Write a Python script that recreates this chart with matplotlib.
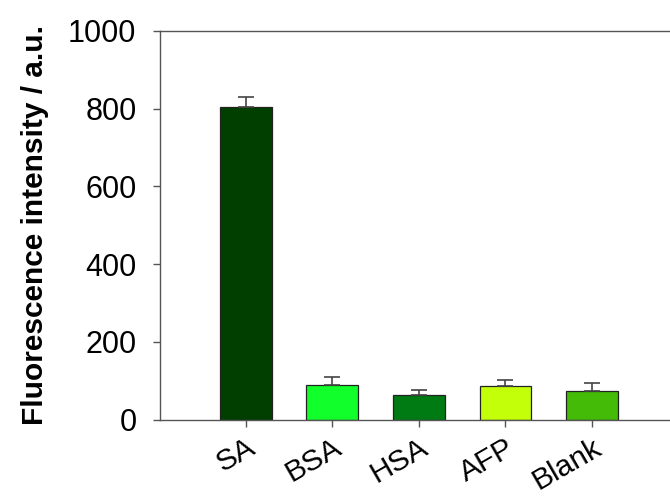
import matplotlib
matplotlib.use("Agg")
import matplotlib.pyplot as plt
import matplotlib.transforms as mtransforms

plt.rcParams['font.family'] = ['Liberation Sans', 'DejaVu Sans']

categories = ["SA", "BSA", "HSA", "AFP", "Blank"]
intensity = [805, 88, 62, 86, 74]
errors = [25, 22, 15, 15, 19]
bar_colors = ["#003f00", "#11ff2a", "#007a12", "#c4ff0a", "#44bb06"]
yticks = [0, 200, 400, 600, 800, 1000]

fig = plt.figure(figsize=(6.70, 4.96), dpi=100)
ax = fig.add_axes([0.2388, 0.1542, 0.7612, 0.7833])

x = list(range(len(categories)))
ax.bar(x, intensity, width=0.6, color=bar_colors, edgecolor="#222222",
       linewidth=0.9, zorder=2)
ax.errorbar(x, intensity, yerr=[[0] * len(errors), errors], fmt="none",
            ecolor="#444444", elinewidth=1.2, capsize=6, capthick=1.2, zorder=3)

ax.set_xlim(-0.99, 4.9)
ax.set_ylim(0, 1000)
ax.set_yticks(yticks)
ax.set_yticklabels([str(v) for v in yticks], fontsize=22)
ax.set_xticks(x)
ax.set_xticklabels(categories, fontsize=21.5, rotation=30, ha="right",
                   rotation_mode="anchor")
offset = mtransforms.ScaledTranslation(10 / 72, 0, fig.dpi_scale_trans)
for lbl in ax.get_xticklabels():
    lbl.set_transform(lbl.get_transform() + offset)

for side in ("left", "bottom", "top"):
    ax.spines[side].set_color("#555555")
    ax.spines[side].set_linewidth(1.0)
ax.spines["right"].set_visible(False)
ax.tick_params(axis="both", direction="out", length=5, width=1.0,
               color="#555555")
ax.tick_params(axis="y", pad=12)
ax.tick_params(axis="x", pad=5)

ax.set_ylabel("Fluorescence intensity / a.u.", fontsize=21.5, fontweight="bold",
              labelpad=14)

fig.savefig("out.png", dpi=100)
